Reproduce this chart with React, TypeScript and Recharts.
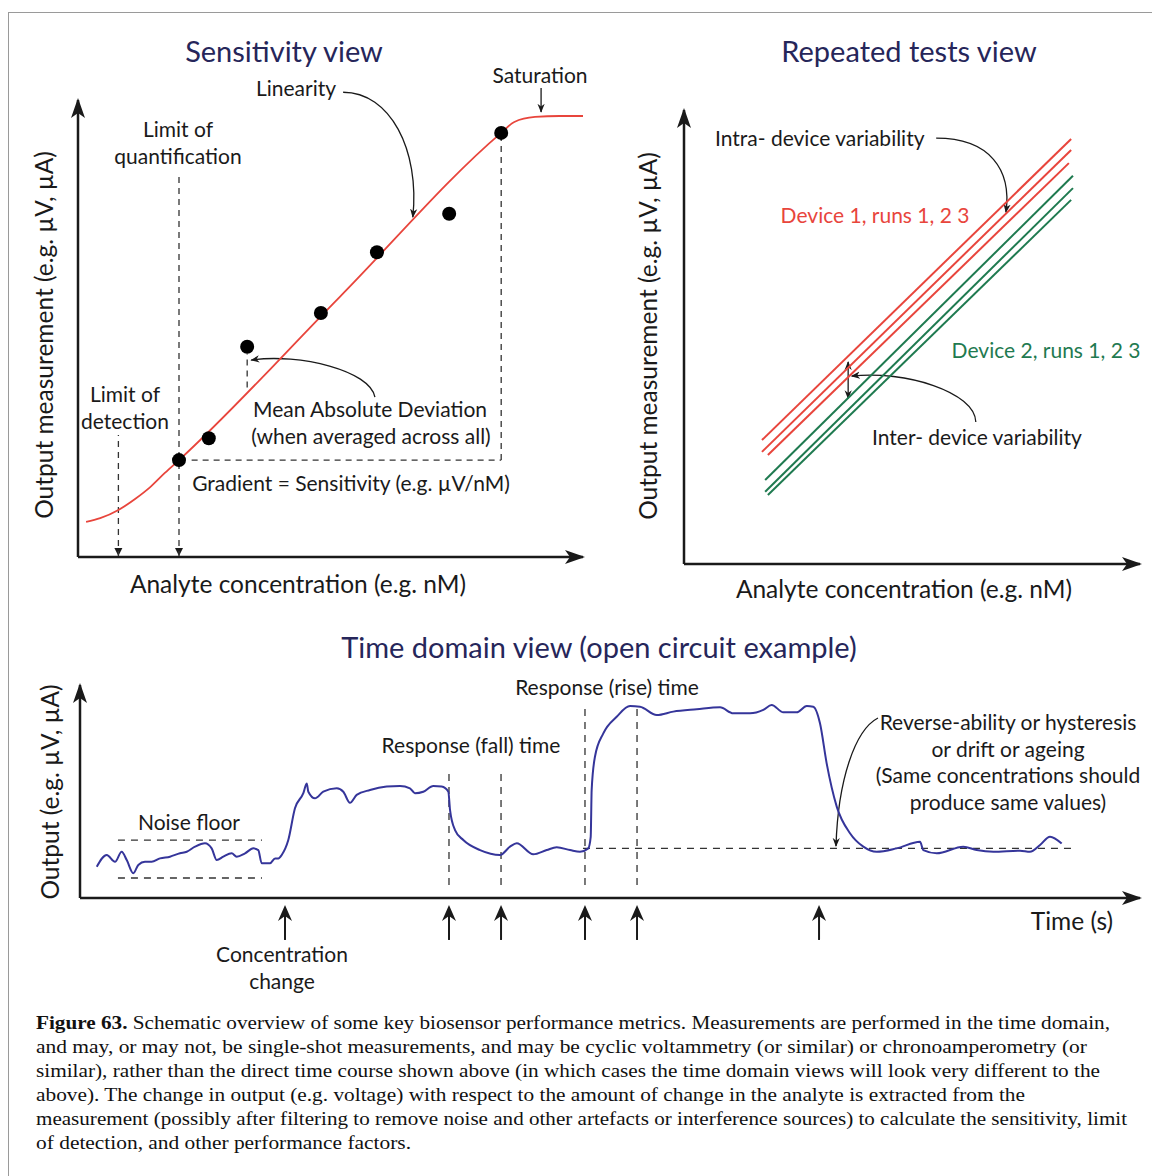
import React from 'react'
import {
  ComposedChart,
  Line,
  Scatter,
  XAxis,
  YAxis,
  ReferenceLine,
  Customized,
} from 'recharts'

// ============================================
// Data (arbitrary schematic units)
// ============================================

// Sensitivity view: analyte concentration (0-10) vs output (0-10)
const sensCurveX = [0.16, 0.44, 0.8, 1.13, 1.43, 1.72, 2.0, 5.19, 8.38, 8.64, 9.05, 9.54, 10.0]
const sensCurveY = [0.77, 0.85, 1.03, 1.27, 1.53, 1.84, 2.12, 5.7, 9.28, 9.52, 9.63, 9.65, 9.65]
const sensDotX = [2.0, 2.59, 3.35, 4.81, 5.92, 7.35, 8.38]
const sensDotY = [2.12, 2.6, 4.6, 5.34, 6.67, 7.51, 9.28]
const limitOfDetection = 0.8
const limitOfQuantification = 2.0
const saturationX = 8.38
const gradientBaseY = 2.12

// Repeated tests view: start / end of each run line
const device1X0 = [1.71, 1.71, 1.84]
const device1Y0 = [2.73, 2.47, 2.4]
const device1X1 = [8.49, 8.49, 8.44]
const device1Y1 = [9.36, 9.12, 8.83]
const device2X0 = [1.78, 1.78, 1.84]
const device2Y0 = [1.85, 1.59, 1.52]
const device2X1 = [8.53, 8.53, 8.49]
const device2Y1 = [8.55, 8.28, 8.02]

// Time domain view: time (0-100) vs output (0-10)
const timeS = [
  1.58, 2.52, 3.3, 3.93, 4.41, 5.03, 5.5, 6.13, 6.76, 7.55,
  8.49, 9.43, 10.07, 10.85, 11.79, 12.42, 12.9, 13.52, 14.31, 14.78,
  15.57, 16.35, 16.82, 17.14, 17.92, 18.4, 18.71, 19.03, 19.65, 20.28,
  21.07, 21.39, 21.54, 22.17, 22.95, 24.22, 24.84, 25.47, 26.1, 27.36,
  28.93, 30.19, 31.13, 31.6, 32.39, 33.33, 34.12, 34.75, 34.91, 35.38,
  36.16, 37.74, 39.62, 40.57, 41.2, 42.76, 44.03, 44.97, 46.23, 47.17,
  47.95, 48.18, 48.27, 48.58, 49.37, 50.63, 51.89, 52.83, 54.41, 55.97,
  58.18, 60.38, 61.63, 63.21, 64.46, 65.25, 66.35, 67.61, 68.56, 69.18,
  69.81, 70.44, 71.39, 72.64, 73.9, 75.16, 77.05, 79.25, 79.56, 80.82,
  83.33, 84.59, 86.16, 88.68, 89.62, 90.57, 91.51, 92.61,
]
const outputV = [
  1.47, 2.02, 1.7, 2.17, 1.78, 1.16, 1.55, 1.7, 1.7, 1.86,
  1.94, 2.1, 2.17, 2.41, 2.57, 2.33, 1.78, 1.94, 2.1, 1.94,
  2.1, 2.33, 2.25, 1.63, 1.63, 1.86, 1.86, 2.02, 2.72, 4.21,
  4.92, 5.38, 4.99, 4.68, 4.99, 5.15, 4.99, 4.47, 4.84, 5.07,
  5.23, 5.26, 5.15, 4.92, 4.99, 5.26, 5.23, 4.99, 4.13, 3.19,
  2.72, 2.25, 2.02, 2.41, 2.57, 2.05, 2.25, 2.38, 2.25, 2.17,
  2.33, 2.87, 5.07, 6.63, 7.73, 8.51, 9.01, 8.98, 8.59, 8.75,
  8.86, 8.95, 8.67, 8.67, 8.83, 9.06, 8.72, 8.72, 9.01, 8.98,
  8.2, 6.32, 4.29, 3.04, 2.41, 2.17, 2.33, 2.64, 2.25, 2.1,
  2.41, 2.25, 2.17, 2.22, 2.17, 2.49, 2.88, 2.56,
]
const noiseFloorY = [2.72, 0.94]
const noiseFloorSpan = [3.58, 17.17]
const baselineY = 2.33
const baselineSpan = [47.45, 93.87]
const fallTimes = [34.81, 39.72]
const riseTimes = [47.64, 52.55]
const eventTimes = [19.34, 34.81, 39.72, 47.64, 52.55, 69.72]

const captionLines = [
  'Schematic overview of some key biosensor performance metrics. Measurements are performed in the time domain,',
  'and may, or may not, be single-shot measurements, and may be cyclic voltammetry (or similar) or chronoamperometry (or',
  'similar), rather than the direct time course shown above (in which cases the time domain views will look very different to the',
  'above). The change in output (e.g. voltage) with respect to the amount of change in the analyte is extracted from the',
  'measurement (possibly after filtering to remove noise and other artefacts or interference sources) to calculate the sensitivity, limit',
  'of detection, and other performance factors.',
]
const captionLineEnds = [1110, 1087, 1100, 1025, 1127, 411]

// ============================================
// Layout helpers
// ============================================

const FONT = 'Lato, "Open Sans", sans-serif'
const INK = '#1a1a1a'
const TITLE = '#26265a'
const RED = '#e8453c'
const GREEN = '#1f7a50'
const BLUE = '#35359a'

const TITLE_SIZE = 29
const AXIS_SIZE = 24.5
const NOTE_SIZE = 21

interface Frame {
  w: number
  h: number
  left: number
  top: number
  right: number
  bottom: number
  xMax: number
  yMax: number
}

const SENS: Frame = { w: 600, h: 610, left: 78, top: 100, right: 17, bottom: 53, xMax: 10, yMax: 10 }
const REP: Frame = { w: 552, h: 620, left: 84, top: 110, right: 12, bottom: 56, xMax: 10, yMax: 10 }
const TIME: Frame = { w: 1152, h: 390, left: 80, top: 70, right: 12, bottom: 107, xMax: 100, yMax: 10 }

function scaler(f: Frame) {
  const pw = f.w - f.left - f.right
  const ph = f.h - f.top - f.bottom
  return {
    x: (v: number) => f.left + (v / f.xMax) * pw,
    y: (v: number) => f.top + ph - (v / f.yMax) * ph,
  }
}

function curvePath(f: Frame, pts: number[][]) {
  const s = scaler(f)
  const p = pts.map(([x, y]) => `${s.x(x)},${s.y(y)}`)
  return pts.length === 4 ? `M${p[0]} C${p[1]} ${p[2]} ${p[3]}` : `M${p[0]} L${p[1]}`
}

interface TxtProps {
  x: number
  y: number
  s?: number
  a?: 'start' | 'middle' | 'end'
  c?: string
  rot?: number
  children: React.ReactNode
}

function Txt({ x, y, s = NOTE_SIZE, a = 'middle', c = INK, rot, children }: TxtProps) {
  return (
    <text
      x={x}
      y={y}
      fontSize={s}
      textAnchor={a}
      fill={c}
      fontFamily={FONT}
      transform={rot ? `rotate(${rot} ${x} ${y})` : undefined}
    >
      {children}
    </text>
  )
}

function Defs({ id }: { id: string }) {
  return (
    <defs>
      <marker
        id={`${id}-a`}
        viewBox="0 0 10 10"
        refX="9"
        refY="5"
        markerWidth="9"
        markerHeight="9"
        markerUnits="userSpaceOnUse"
        orient="auto-start-reverse"
      >
        <path d="M0,1 L10,5 L0,9 L3,5 z" fill={INK} />
      </marker>
    </defs>
  )
}

function AxisArrows({ f }: { f: Frame }) {
  const x0 = f.left
  const y0 = f.h - f.bottom
  const x1 = f.w - f.right
  const yt = f.top
  return (
    <g fill={INK}>
      <polygon points={`${x0},${yt - 2} ${x0 - 7},${yt + 18} ${x0},${yt + 13} ${x0 + 7},${yt + 18}`} />
      <polygon points={`${x1 + 2},${y0} ${x1 - 18},${y0 - 7} ${x1 - 13},${y0} ${x1 - 18},${y0 + 7}`} />
    </g>
  )
}

// axes keep 1px of room: recharts skips drawing an axis whose box is 0 wide
function axisProps() {
  return {
    tick: false as const,
    tickLine: false,
    axisLine: { stroke: INK, strokeWidth: 2.5 },
    allowDataOverflow: true,
  }
}

function margin(f: Frame) {
  return { left: f.left - 1, top: f.top, right: f.right, bottom: f.bottom - 1 }
}

// ============================================
// Overlays (annotations)
// ============================================

function SensOverlay() {
  const s = scaler(SENS)
  const yAxisBase = s.y(0)
  const downHead = (x: number) =>
    `${x},${yAxisBase - 1} ${x - 4},${yAxisBase - 9} ${x + 4},${yAxisBase - 9}`
  return (
    <g>
      <Defs id="s" />
      <AxisArrows f={SENS} />
      <polygon points={downHead(s.x(limitOfDetection))} fill={INK} />
      <polygon points={downHead(s.x(limitOfQuantification))} fill={INK} />
      <Txt x={284} y={62} s={TITLE_SIZE} c={TITLE}>Sensitivity view</Txt>
      <Txt x={53} y={335} s={AXIS_SIZE} rot={-90}>Output measurement (e.g. µV, µA)</Txt>
      <Txt x={298} y={593} s={AXIS_SIZE}>Analyte concentration (e.g. nM)</Txt>
      <Txt x={296} y={96}>Linearity</Txt>
      <Txt x={540} y={83}>Saturation</Txt>
      <Txt x={178} y={137}>Limit of</Txt>
      <Txt x={178} y={164}>quantification</Txt>
      <Txt x={125} y={402}>Limit of</Txt>
      <Txt x={125} y={429}>detection</Txt>
      <Txt x={370} y={417}>Mean Absolute Deviation</Txt>
      <Txt x={371} y={444}>(when averaged across all)</Txt>
      <Txt x={351} y={491}>Gradient = Sensitivity (e.g. µV/nM)</Txt>
      <g fill="none" stroke={INK} strokeWidth={1.3} markerEnd="url(#s-a)">
        <path d={curvePath(SENS, [[5.25, 10.17], [6.18, 10.17], [6.77, 8.91], [6.63, 7.44]])} />
        <path d={curvePath(SENS, [[9.17, 10.26], [9.17, 9.74]])} />
        <path d={curvePath(SENS, [[5.88, 3.5], [5.78, 4.08], [4.4, 4.46], [3.43, 4.31]])} />
      </g>
    </g>
  )
}

function RepOverlay() {
  return (
    <g>
      <Defs id="r" />
      <AxisArrows f={REP} />
      <Txt x={309} y={62} s={TITLE_SIZE} c={TITLE}>Repeated tests view</Txt>
      <Txt x={57} y={336} s={AXIS_SIZE} rot={-90}>Output measurement (e.g. µV, µA)</Txt>
      <Txt x={304} y={598} s={AXIS_SIZE}>Analyte concentration (e.g. nM)</Txt>
      <Txt x={115} y={146} a="start">Intra- device variability</Txt>
      <Txt x={275} y={223} c={RED}>Device 1, runs 1, 2 3</Txt>
      <Txt x={446} y={358} c={GREEN}>Device 2, runs 1, 2 3</Txt>
      <Txt x={377} y={445}>Inter- device variability</Txt>
      <g fill="none" stroke={INK} strokeWidth={1.3}>
        <path
          markerEnd="url(#r-a)"
          d={curvePath(REP, [[5.53, 9.38], [6.71, 9.38], [7.19, 8.68], [7.06, 7.75]])}
        />
        <path
          markerEnd="url(#r-a)"
          d={curvePath(REP, [[6.4, 3.13], [6.38, 3.79], [4.85, 4.27], [3.68, 4.14]])}
        />
        <path
          markerStart="url(#r-a)"
          markerEnd="url(#r-a)"
          d={curvePath(REP, [[3.6, 4.45], [3.6, 3.65]])}
        />
      </g>
    </g>
  )
}

function TimeOverlay() {
  const s = scaler(TIME)
  const tip = s.y(-0.33)
  const tail = s.y(-1.97)
  return (
    <g>
      <Defs id="t" />
      <AxisArrows f={TIME} />
      <Txt x={599} y={43} s={TITLE_SIZE} c={TITLE}>Time domain view (open circuit example)</Txt>
      <Txt x={59} y={177} s={AXIS_SIZE} rot={-90}>Output  (e.g. µV, µA)</Txt>
      <Txt x={1072} y={315} s={AXIS_SIZE}>Time (s)</Txt>
      <Txt x={189} y={215}>Noise floor</Txt>
      <Txt x={282} y={347}>Concentration</Txt>
      <Txt x={282} y={374}>change</Txt>
      <Txt x={471} y={138}>Response (fall) time</Txt>
      <Txt x={607} y={80}>Response (rise) time</Txt>
      <Txt x={1008} y={115}>Reverse-ability or hysteresis</Txt>
      <Txt x={1008} y={142}>or drift or ageing</Txt>
      <Txt x={1008} y={168}>(Same concentrations should</Txt>
      <Txt x={1008} y={195}>produce same values)</Txt>
      <path
        fill="none"
        stroke={INK}
        strokeWidth={1.3}
        markerEnd="url(#t-a)"
        d={curvePath(TIME, [[75.28, 8.45], [73.11, 7.89], [71.51, 5.54], [71.32, 2.44]])}
      />
      {eventTimes.map((t) => {
        const x = s.x(t)
        return (
          <g key={t}>
            <line x1={x} y1={tip + 8} x2={x} y2={tail} stroke={INK} strokeWidth={2} />
            <polygon
              points={`${x},${tip} ${x - 7},${tip + 16} ${x},${tip + 11} ${x + 7},${tip + 16}`}
              fill={INK}
            />
          </g>
        )
      })}
    </g>
  )
}

// ============================================
// Charts
// ============================================

const sensCurve = sensCurveX.map((x, i) => ({ x, y: sensCurveY[i] }))
const sensDots = sensDotX.map((x, i) => ({ x, y: sensDotY[i] }))
const device1Runs = device1X0.map((x0, i) => [
  { x: x0, y: device1Y0[i] },
  { x: device1X1[i], y: device1Y1[i] },
])
const device2Runs = device2X0.map((x0, i) => [
  { x: x0, y: device2Y0[i] },
  { x: device2X1[i], y: device2Y1[i] },
])
const timeCourse = timeS.map((x, i) => ({ x, y: outputV[i] }))

function SensitivityChart() {
  const guide = { stroke: '#333', strokeWidth: 1.3, strokeDasharray: '6 5', ifOverflow: 'visible' as const }
  return (
    <ComposedChart width={SENS.w} height={SENS.h} margin={margin(SENS)}>
      <XAxis type="number" dataKey="x" domain={[0, SENS.xMax]} height={1} {...axisProps()} />
      <YAxis type="number" dataKey="y" domain={[0, SENS.yMax]} width={1} {...axisProps()} />
      <ReferenceLine {...guide} segment={[{ x: limitOfDetection, y: 0 }, { x: limitOfDetection, y: 2.67 }]} />
      <ReferenceLine
        {...guide}
        segment={[{ x: limitOfQuantification, y: 0 }, { x: limitOfQuantification, y: 8.4 }]}
      />
      <ReferenceLine {...guide} segment={[{ x: saturationX, y: gradientBaseY }, { x: saturationX, y: 9.28 }]} />
      <ReferenceLine {...guide} segment={[{ x: 2.25, y: gradientBaseY }, { x: saturationX, y: gradientBaseY }]} />
      <ReferenceLine {...guide} segment={[{ x: 3.35, y: 3.71 }, { x: 3.35, y: 4.45 }]} />
      <Line
        data={sensCurve}
        dataKey="y"
        type="monotone"
        stroke={RED}
        strokeWidth={1.8}
        dot={false}
        isAnimationActive={false}
      />
      <Scatter
        data={sensDots}
        dataKey="y"
        isAnimationActive={false}
        shape={(p: any) => <circle cx={p.cx} cy={p.cy} r={7} fill="#000" />}
      />
      <Customized component={<SensOverlay />} />
    </ComposedChart>
  )
}

function RepeatedChart() {
  return (
    <ComposedChart width={REP.w} height={REP.h} margin={margin(REP)}>
      <XAxis type="number" dataKey="x" domain={[0, REP.xMax]} height={1} {...axisProps()} />
      <YAxis type="number" dataKey="y" domain={[0, REP.yMax]} width={1} {...axisProps()} />
      {device1Runs.map((d, i) => (
        <Line
          key={`d1-${i}`}
          data={d}
          dataKey="y"
          type="linear"
          stroke={RED}
          strokeWidth={2}
          dot={false}
          isAnimationActive={false}
        />
      ))}
      {device2Runs.map((d, i) => (
        <Line
          key={`d2-${i}`}
          data={d}
          dataKey="y"
          type="linear"
          stroke={GREEN}
          strokeWidth={2}
          dot={false}
          isAnimationActive={false}
        />
      ))}
      <Customized component={<RepOverlay />} />
    </ComposedChart>
  )
}

function TimeChart() {
  const guide = { stroke: '#333', strokeWidth: 1.3, strokeDasharray: '7 6', ifOverflow: 'visible' as const }
  return (
    <ComposedChart width={TIME.w} height={TIME.h} margin={margin(TIME)}>
      <XAxis type="number" dataKey="x" domain={[0, TIME.xMax]} height={1} {...axisProps()} />
      <YAxis type="number" dataKey="y" domain={[0, TIME.yMax]} width={1} {...axisProps()} />
      {noiseFloorY.map((y) => (
        <ReferenceLine
          key={`nf-${y}`}
          {...guide}
          segment={[{ x: noiseFloorSpan[0], y }, { x: noiseFloorSpan[1], y }]}
        />
      ))}
      <ReferenceLine
        {...guide}
        segment={[{ x: baselineSpan[0], y: baselineY }, { x: baselineSpan[1], y: baselineY }]}
      />
      {fallTimes.map((x) => (
        <ReferenceLine key={`f-${x}`} {...guide} segment={[{ x, y: 0.61 }, { x, y: 6.1 }]} />
      ))}
      {riseTimes.map((x) => (
        <ReferenceLine key={`r-${x}`} {...guide} segment={[{ x, y: 0.61 }, { x, y: 9.15 }]} />
      ))}
      <Line
        data={timeCourse}
        dataKey="y"
        type="monotone"
        stroke={BLUE}
        strokeWidth={2}
        dot={false}
        isAnimationActive={false}
      />
      <Customized component={<TimeOverlay />} />
    </ComposedChart>
  )
}

function Caption() {
  return (
    <svg width={1152} height={176}>
      {captionLines.map((line, i) => (
        <text
          key={i}
          x={36}
          y={29 + i * 24}
          fontFamily='"Liberation Serif", serif'
          fontSize={19}
          fill="#111"
          textLength={captionLineEnds[i] - 36}
          lengthAdjust="spacingAndGlyphs"
        >
          {i === 0 && <tspan fontWeight="bold">Figure 63. </tspan>}
          {line}
        </text>
      ))}
    </svg>
  )
}

export default function App() {
  return (
    <div style={{ position: 'absolute', left: 0, top: 0, width: 1152, height: 1176, background: '#fff', overflow: 'hidden' }}>
      <div
        style={{
          position: 'absolute',
          left: 8,
          top: 12,
          width: 1160,
          height: 1200,
          borderTop: '1.5px solid #9a9a9a',
          borderLeft: '1.5px solid #9a9a9a',
        }}
      />
      <div style={{ position: 'absolute', left: 0, top: 0 }}>
        <SensitivityChart />
      </div>
      <div style={{ position: 'absolute', left: 600, top: 0 }}>
        <RepeatedChart />
      </div>
      <div style={{ position: 'absolute', left: 0, top: 615 }}>
        <TimeChart />
      </div>
      <div style={{ position: 'absolute', left: 0, top: 1000 }}>
        <Caption />
      </div>
    </div>
  )
}
